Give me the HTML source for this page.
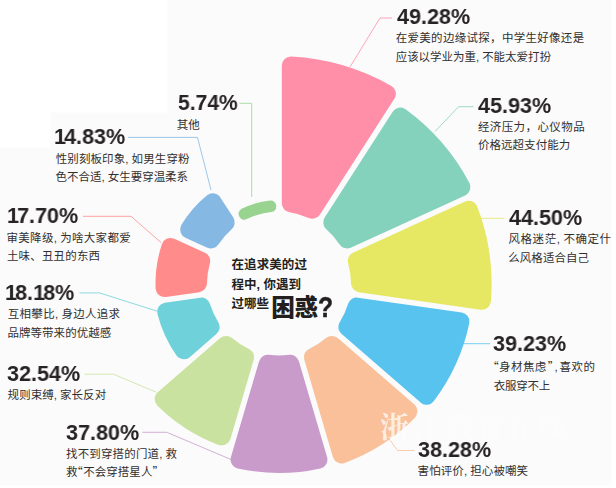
<!DOCTYPE html>
<html lang="zh-CN">
<head>
<meta charset="utf-8">
<title>在追求美的过程中,你遇到过哪些困惑?</title>
<style>
html,body{margin:0;padding:0;background:#fbfbfb;}
#chart{position:relative;width:616px;height:488px;overflow:hidden;font-family:"Liberation Sans",sans-serif;}
#chart svg{position:absolute;left:0;top:0;display:block;}
.n{position:absolute;font-weight:700;font-size:21.90px;line-height:1;color:#272324;white-space:nowrap;transform-origin:0 0;transform:scaleX(0.986);letter-spacing:0;}
.o{margin-right:-2.0px;}
.q{position:absolute;font-weight:700;font-size:30.00px;line-height:1;color:#231f20;-webkit-text-stroke:0.5px #231f20;transform-origin:0 0;transform:scaleX(0.820);}
.n,.q{will-change:transform;}
.t{position:absolute;color:transparent;white-space:nowrap;line-height:1;overflow:hidden;}
.lb{font-family:"Liberation Sans","Noto Sans CJK SC",sans-serif;font-size:11.47px;fill:#332f2e;font-weight:400;}
.ct{font-family:"Liberation Sans","Noto Sans CJK SC",sans-serif;font-size:12.5px;fill:#231f20;font-weight:700;}
.qm{font-family:"Noto Sans CJK SC","Liberation Sans",sans-serif;}
</style>
</head>
<body>
<div id="chart">
<svg width="616" height="488" viewBox="0 0 616 488" aria-hidden="true">
<rect x="0" y="0" width="616" height="488" fill="#fbfbfb"/>
<path d="M0 0H167.5V112.5H50.5V147.5H0Z" fill="#ffffff"/>
<path d="M611.5 0H616V488H0V485H611.5Z" fill="#ffffff"/>
<path d="M392.0 18.0L380.0 18.0L350.0 67.0" fill="none" stroke="#ff8fa8" stroke-width="0.8"/>
<path d="M473.5 106.7L458.6 106.7L435.0 131.5" fill="none" stroke="#84d2bc" stroke-width="0.8"/>
<path d="M504.5 218.3L481.0 218.3" fill="none" stroke="#e6e762" stroke-width="0.8"/>
<path d="M490.0 343.7L464.0 343.7" fill="none" stroke="#58c3ee" stroke-width="0.8"/>
<path d="M414.2 450.5L397.5 450.5L388.5 438.0" fill="none" stroke="#f9c09a" stroke-width="0.8"/>
<path d="M142.3 432.3L166.8 432.3L231.0 459.5" fill="none" stroke="#c99bcb" stroke-width="0.8"/>
<path d="M84.6 374.2L113.5 374.2L156.5 392.3" fill="none" stroke="#c9e29f" stroke-width="0.8"/>
<path d="M79.5 292.9L99.5 292.9L157.5 311.3" fill="none" stroke="#6fd1d9" stroke-width="0.8"/>
<path d="M83.0 216.3L131.0 216.3L161.0 242.5" fill="none" stroke="#ff8b8b" stroke-width="0.8"/>
<path d="M128.0 137.4L197.5 137.4L211.0 190.0" fill="none" stroke="#85b9e3" stroke-width="0.8"/>
<path d="M239.5 103.3L251.7 103.3L251.7 197.0" fill="none" stroke="#98d390" stroke-width="0.8"/>
<path d="M290.80 203.36L290.80 65.52A218.30 218.30 0 0 1 386.92 93.74L312.40 209.71A81.00 81.00 0 0 0 290.80 203.36Z" fill="#ff8fa8" stroke="#ff8fa8" stroke-width="18.00" stroke-linejoin="round"/>
<path d="M332.25 222.46L400.28 116.61A206.30 206.30 0 0 1 461.45 187.21L346.99 239.48A81.00 81.00 0 0 0 332.25 222.46Z" fill="#84d2bc" stroke="#84d2bc" stroke-width="18.00" stroke-linejoin="round"/>
<path d="M356.80 260.94L468.79 209.80A203.60 203.60 0 0 1 481.87 300.75L360.00 283.22A81.00 81.00 0 0 0 356.80 260.94Z" fill="#e6e762" stroke="#e6e762" stroke-width="18.00" stroke-linejoin="round"/>
<path d="M356.64 306.58L460.46 321.51A185.40 185.40 0 0 1 426.56 395.75L347.29 327.06A81.00 81.00 0 0 0 356.64 306.58Z" fill="#58c3ee" stroke="#58c3ee" stroke-width="18.00" stroke-linejoin="round"/>
<path d="M331.84 344.90L408.53 411.35A182.00 182.00 0 0 1 341.49 454.44L312.90 357.07A81.00 81.00 0 0 0 331.84 344.90Z" fill="#f9c09a" stroke="#f9c09a" stroke-width="18.00" stroke-linejoin="round"/>
<path d="M290.25 363.71L318.42 459.64A180.50 180.50 0 0 1 239.58 459.64L267.75 363.71A81.00 81.00 0 0 0 290.25 363.71Z" fill="#c99bcb" stroke="#c99bcb" stroke-width="18.00" stroke-linejoin="round"/>
<path d="M245.10 357.07L221.79 436.45A163.30 163.30 0 0 1 163.64 399.08L226.16 344.90A81.00 81.00 0 0 0 245.10 357.07Z" fill="#c9e29f" stroke="#c9e29f" stroke-width="18.00" stroke-linejoin="round"/>
<path d="M210.71 327.06L183.83 350.35A116.30 116.30 0 0 1 166.16 311.65L201.36 306.58A81.00 81.00 0 0 0 210.71 327.06Z" fill="#6fd1d9" stroke="#6fd1d9" stroke-width="18.00" stroke-linejoin="round"/>
<path d="M198.00 283.22L164.59 288.03A114.50 114.50 0 0 1 170.50 246.92L201.20 260.94A81.00 81.00 0 0 0 198.00 283.22Z" fill="#ff8b8b" stroke="#ff8b8b" stroke-width="18.00" stroke-linejoin="round"/>
<path d="M211.01 239.48L189.18 229.51A104.80 104.80 0 0 1 212.77 202.28L225.75 222.46A81.00 81.00 0 0 0 211.01 239.48Z" fill="#85b9e3" stroke="#85b9e3" stroke-width="18.00" stroke-linejoin="round"/>
<path d="M244.32 214.19L244.05 213.77A78.00 78.00 0 0 1 270.70 205.94L270.70 206.45A77.50 77.50 0 0 0 244.32 214.19Z" fill="#98d390" stroke="#98d390" stroke-width="11.00" stroke-linejoin="round"/>
<g opacity="0.72"><text x="380" y="437.6" font-size="29" font-weight="700" fill="#ffffff" font-family="&quot;Liberation Serif&quot;,&quot;Noto Serif CJK SC&quot;,serif">浙</text></g><g opacity="0.4"><text x="413" y="437.6" font-size="29" font-weight="700" fill="#ffffff" letter-spacing="2.2" font-family="&quot;Liberation Serif&quot;,&quot;Noto Serif CJK SC&quot;,serif">江教育在线</text></g>
<g>
<text class="lb" x="395.7" y="42.26" letter-spacing="0.33">在爱美的边缘试探，中学生好像还是</text>
<text class="lb" x="395.7" y="60.86" letter-spacing="0">应该以学业为重,<tspan dx="3">不能太爱打扮</tspan></text>
<text class="lb" x="477.9" y="130.86" letter-spacing="0.44">经济压力，心仪物品</text>
<text class="lb" x="477.9" y="149.16" letter-spacing="0.08">价格远超支付能力</text>
<text class="lb" x="508.5" y="242.76" letter-spacing="0.58">风格迷茫,<tspan dx="3">不确定什</tspan></text>
<text class="lb" x="508.3" y="262.46" letter-spacing="0.07">么风格适合自己</text>
<text class="lb" x="487.2" y="370.76" letter-spacing="0.44"><tspan class="qm">“</tspan>身材焦虑<tspan class="qm" x="547.8">”</tspan><tspan x="554.5">,</tspan><tspan x="559.6">喜欢的</tspan></text>
<text class="lb" x="493.8" y="390.06" letter-spacing="-0.22">衣服穿不上</text>
<text class="lb" x="417.6" y="475.36" letter-spacing="0.12">害怕评价,<tspan dx="3">担心被嘲笑</tspan></text>
<text class="lb" x="66.0" y="458.46" letter-spacing="0.18">找不到穿搭的门道,<tspan dx="3">救</tspan></text>
<text class="lb" x="66.0" y="476.26" letter-spacing="0.05">救<tspan class="qm" x="71.3">“</tspan><tspan x="83.3">不会穿搭星人</tspan><tspan class="qm">”</tspan></text>
<text class="lb" x="7.6" y="399.16" letter-spacing="0.07">规则束缚,<tspan dx="3">家长反对</tspan></text>
<text class="lb" x="7.8" y="318.16" letter-spacing="0.32">互相攀比,<tspan dx="3">身边人追求</tspan></text>
<text class="lb" x="7.4" y="336.96" letter-spacing="0.08">品牌等带来的优越感</text>
<text class="lb" x="6.5" y="241.66" letter-spacing="0.33">审美降级,<tspan dx="3">为啥大家都爱</tspan></text>
<text class="lb" x="6.9" y="259.56" letter-spacing="0.2">土味、丑丑的东西</text>
<text class="lb" x="55.7" y="163.36" letter-spacing="0.13">性别刻板印象,<tspan dx="3">如男生穿粉</tspan></text>
<text class="lb" x="55.6" y="180.66" letter-spacing="0.01">色不合适,<tspan dx="3">女生要穿温柔系</tspan></text>
<text class="lb" x="176.7" y="128.86" letter-spacing="0">其他</text>
<text class="ct" x="231.5" y="269.35" letter-spacing="0.08">在追求美的过</text>
<text class="ct" x="231.5" y="288.65" letter-spacing="0">程中,<tspan dx="3.5">你遇到</tspan></text>
<text class="ct" x="231.5" y="307.75" letter-spacing="0">过哪些</text>
<text x="271.2" y="316.07" font-size="23.6" font-weight="900" fill="#231f20" letter-spacing="-0.4" font-family="&quot;Liberation Sans&quot;,&quot;Noto Sans CJK SC&quot;,sans-serif">困惑</text>
</g>
</svg>
<div class="n" style="left:397.3px;top:5.8px">49.28%</div>
<div class="n" style="left:478.4px;top:94.7px">45.93%</div>
<div class="n" style="left:508.6px;top:207.1px">44.50%</div>
<div class="n" style="left:493.4px;top:333.0px">39.23%</div>
<div class="n" style="left:418.0px;top:439.0px">38.28%</div>
<div class="n" style="left:66.0px;top:422.0px">37.80%</div>
<div class="n" style="left:7.3px;top:363.1px">32.54%</div>
<div class="n" style="left:5.3px;top:282.1px"><span class="o">1</span>8.<span class="o">1</span>8%</div>
<div class="n" style="left:6.6px;top:205.4px"><span class="o">1</span>7.70%</div>
<div class="n" style="left:54.1px;top:126.4px"><span class="o">1</span>4.83%</div>
<div class="n" style="left:178.3px;top:92.4px;transform:scaleX(0.962)">5.74%</div>
<div class="q" style="left:317.6px;top:291.8px">?</div>
<div class="t" style="left:396.1px;top:32.2px;font-size:11.47px;width:188.6px;height:11.5px;font-weight:400;letter-spacing:0.33px">在爱美的边缘试探，中学生好像还是</div>
<div class="t" style="left:396.1px;top:50.8px;font-size:11.47px;width:155.1px;height:11.5px;font-weight:400;letter-spacing:0.00px">应该以学业为重,不能太爱打扮</div>
<div class="t" style="left:478.3px;top:120.8px;font-size:11.47px;width:106.5px;height:11.5px;font-weight:400;letter-spacing:0.44px">经济压力，心仪物品</div>
<div class="t" style="left:478.3px;top:139.1px;font-size:11.47px;width:91.8px;height:11.5px;font-weight:400;letter-spacing:0.08px">价格远超支付能力</div>
<div class="t" style="left:509.0px;top:232.7px;font-size:11.47px;width:102.2px;height:11.5px;font-weight:400;letter-spacing:0.58px">风格迷茫,不确定什</div>
<div class="t" style="left:509.0px;top:252.4px;font-size:11.47px;width:80.5px;height:11.5px;font-weight:400;letter-spacing:0.07px">么风格适合自己</div>
<div class="t" style="left:494.4px;top:360.7px;font-size:11.47px;width:100.7px;height:11.5px;font-weight:400;letter-spacing:0.44px">“身材焦虑”,喜欢的</div>
<div class="t" style="left:494.2px;top:380.0px;font-size:11.47px;width:56.5px;height:11.5px;font-weight:400;letter-spacing:-0.22px">衣服穿不上</div>
<div class="t" style="left:418.4px;top:465.3px;font-size:11.47px;width:109.7px;height:11.5px;font-weight:400;letter-spacing:0.12px">害怕评价,担心被嘲笑</div>
<div class="t" style="left:66.4px;top:448.4px;font-size:11.47px;width:110.8px;height:11.5px;font-weight:400;letter-spacing:0.18px">找不到穿搭的门道,救</div>
<div class="t" style="left:66.4px;top:466.2px;font-size:11.47px;width:91.8px;height:11.5px;font-weight:400;letter-spacing:0.05px">救“不会穿搭星人”</div>
<div class="t" style="left:8.0px;top:389.1px;font-size:11.47px;width:98.2px;height:11.5px;font-weight:400;letter-spacing:0.07px">规则束缚,家长反对</div>
<div class="t" style="left:8.4px;top:308.1px;font-size:11.47px;width:111.9px;height:11.5px;font-weight:400;letter-spacing:0.32px">互相攀比,身边人追求</div>
<div class="t" style="left:8.4px;top:326.9px;font-size:11.47px;width:103.4px;height:11.5px;font-weight:400;letter-spacing:0.08px">品牌等带来的优越感</div>
<div class="t" style="left:7.5px;top:231.6px;font-size:11.47px;width:123.0px;height:11.5px;font-weight:400;letter-spacing:0.33px">审美降级,为啥大家都爱</div>
<div class="t" style="left:7.5px;top:249.5px;font-size:11.47px;width:87.1px;height:11.5px;font-weight:400;letter-spacing:0.20px">土味、丑丑的东西</div>
<div class="t" style="left:56.0px;top:153.3px;font-size:11.47px;width:133.7px;height:11.5px;font-weight:400;letter-spacing:0.13px">性别刻板印象,如男生穿粉</div>
<div class="t" style="left:56.0px;top:170.6px;font-size:11.47px;width:131.8px;height:11.5px;font-weight:400;letter-spacing:0.01px">色不合适,女生要穿温柔系</div>
<div class="t" style="left:177.2px;top:118.8px;font-size:11.47px;width:23.0px;height:11.5px;font-weight:400;letter-spacing:0.00px">其他</div>
<div class="t" style="left:231.8px;top:258.4px;font-size:12.50px;width:75.8px;height:12.5px;font-weight:700;letter-spacing:0.08px">在追求美的过</div>
<div class="t" style="left:231.8px;top:277.6px;font-size:12.50px;width:68.6px;height:12.5px;font-weight:700;letter-spacing:0.00px">程中,你遇到</div>
<div class="t" style="left:231.8px;top:296.8px;font-size:12.50px;width:37.8px;height:12.5px;font-weight:700;letter-spacing:0.00px">过哪些</div>
<div class="t" style="left:272.8px;top:295.3px;font-size:23.60px;width:45.7px;height:23.6px;font-weight:700;letter-spacing:-0.40px">困惑</div>
</div>
</body>
</html>
